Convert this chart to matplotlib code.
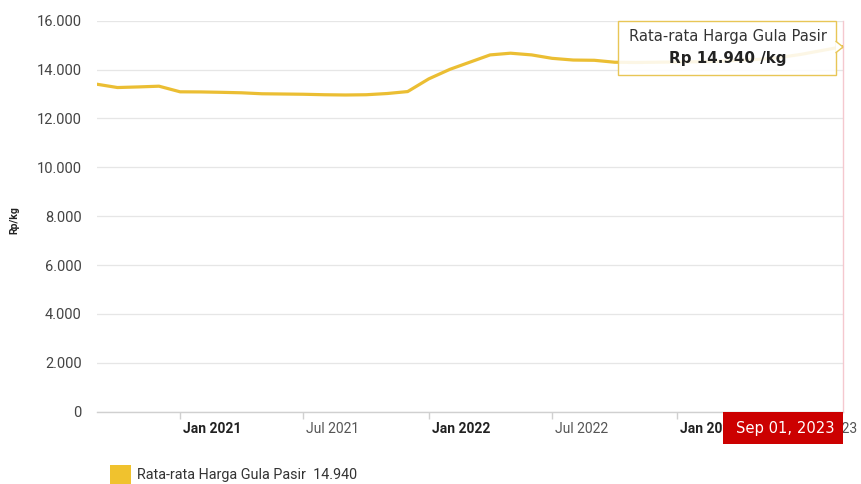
import matplotlib
matplotlib.use("Agg")
import matplotlib.pyplot as plt
import matplotlib.dates as mdates
from matplotlib.patches import Rectangle, Polygon
import datetime as dt

# ---- data ----
months = ["2020-09", "2020-10", "2020-11", "2020-12",
          "2021-01", "2021-02", "2021-03", "2021-04", "2021-05", "2021-06",
          "2021-07", "2021-08", "2021-09", "2021-10", "2021-11", "2021-12",
          "2022-01", "2022-02", "2022-03", "2022-04", "2022-05", "2022-06",
          "2022-07", "2022-08", "2022-09", "2022-10", "2022-11", "2022-12",
          "2023-01", "2023-02", "2023-03", "2023-04", "2023-05", "2023-06",
          "2023-07", "2023-08", "2023-09"]
prices = [13400, 13265, 13290, 13320,
          13090, 13085, 13070, 13050, 13010, 13000,
          12990, 12970, 12960, 12970, 13020, 13100,
          13620, 14010, 14290, 14600, 14670, 14600,
          14460, 14390, 14380, 14300, 14290, 14300,
          14310, 14320, 14340, 14380, 14420, 14500,
          14620, 14780, 14940]
series_name = "Rata-rata Harga Gula Pasir"
last_value_label = "14.940"
tooltip_value = "Rp 14.940 /kg"
crosshair_label = "Sep 01, 2023"
y_ticks = [0, 2000, 4000, 6000, 8000, 10000, 12000, 14000, 16000]
y_tick_labels = ["0", "2.000", "4.000", "6.000", "8.000", "10.000", "12.000", "14.000", "16.000"]
x_ticks = ["2021-01", "2021-07", "2022-01", "2022-07", "2023-01", "2023-07"]
x_tick_labels = ["Jan 2021", "Jul 2021", "Jan 2022", "Jul 2022", "Jan 2023", "Jul 2023"]
x_tick_bold = [True, False, True, False, True, False]

dates = [dt.datetime.strptime(m + "-01", "%Y-%m-%d") for m in months]
tick_dates = [dt.datetime.strptime(m + "-01", "%Y-%m-%d") for m in x_ticks]

W, H = 861, 484
fig = plt.figure(figsize=(W / 100, H / 100), dpi=100)
fig.patch.set_facecolor("white")

def fx(x):
    return x / W

def fy(y):
    return 1 - y / H

left, right, top, bottom = 97, 843, 20.7, 411.7
ax = fig.add_axes([fx(left), fy(bottom), (right - left) / W, (bottom - top) / H])
ax.set_facecolor("white")

line_color = "#EBBE33"
ax.plot(dates, prices, color=line_color, lw=2.3, solid_capstyle="round", zorder=3)

ax.set_xlim(dt.datetime(2020, 9, 1), dt.datetime(2023, 9, 1))
ax.set_ylim(0, 16000)

for s in ["top", "right", "left"]:
    ax.spines[s].set_visible(False)
ax.spines["bottom"].set_color("#d0d0d0")
ax.spines["bottom"].set_linewidth(1.0)

ax.set_yticks(y_ticks)
ax.set_yticklabels(y_tick_labels, fontfamily="Roboto", fontsize=10.5, color="#444444")
ax.tick_params(axis="y", length=0, pad=11)
ax.grid(axis="y", color="#e6e6e6", lw=0.9)
ax.set_axisbelow(True)

ax.set_xticks(tick_dates)
ax.set_xticklabels([])
ax.tick_params(axis="x", length=5, color="#d0d0d0", width=1)

trans = matplotlib.transforms.blended_transform_factory(ax.transData, ax.transAxes)
offset = matplotlib.transforms.ScaledTranslation(3 / 100, 0, fig.dpi_scale_trans)
for d, lab, b in zip(tick_dates, x_tick_labels, x_tick_bold):
    ax.text(d, -0.045, lab, transform=trans + offset, ha="left", va="center",
            fontfamily="Roboto", fontsize=10, fontweight="bold" if b else "normal",
            color="#222222" if b else "#555555", clip_on=False)

ax.set_ylabel("Rp/kg", fontfamily="Roboto", fontsize=7.5, fontweight="bold", color="#222222")
ax.yaxis.set_label_coords(-0.104, 0.49)

# crosshair
ax.axvline(dates[-1], color="#f5c8cf", lw=1.0, zorder=2, clip_on=False)

# crosshair label
fig.patches.append(Rectangle((fx(723), fy(444)), (843 - 723) / W, (444 - 411.5) / H,
                             transform=fig.transFigure, facecolor="#CC0000", edgecolor="none", zorder=5))
fig.text(fx(785), fy(428), crosshair_label, ha="center", va="center", color="white",
         fontfamily="DejaVu Sans", fontsize=10.6, zorder=6)

# tooltip
tip_l, tip_r, tip_t, tip_b = 618, 836, 21, 75
fig.patches.append(Rectangle((fx(tip_l), fy(tip_b)), (tip_r - tip_l) / W, (tip_b - tip_t) / H,
                             transform=fig.transFigure, facecolor="white", alpha=0.88,
                             edgecolor="none", zorder=7))
fig.patches.append(Rectangle((fx(tip_l), fy(tip_b)), (tip_r - tip_l) / W, (tip_b - tip_t) / H,
                             transform=fig.transFigure, facecolor="none",
                             edgecolor="#E8C656", lw=1.0, zorder=8))
fig.patches.append(Polygon([(fx(tip_r - 0.5), fy(41)), (fx(843), fy(47)), (fx(tip_r - 0.5), fy(53))],
                           closed=False, transform=fig.transFigure, facecolor="white",
                           edgecolor="#E8C656", lw=1.0, zorder=8))
fig.text(fx(728), fy(37), series_name, ha="center", va="center", color="#333333",
         fontfamily="DejaVu Sans", fontsize=10.6, zorder=9)
fig.text(fx(728), fy(59), tooltip_value, ha="center", va="center", color="#222222",
         fontfamily="DejaVu Sans", fontsize=10.9, fontweight="bold", zorder=9)

# legend
fig.patches.append(Rectangle((fx(110), fy(484)), 21 / W, 19 / H, transform=fig.transFigure,
                             facecolor="#F0C22E", edgecolor="none"))
fig.text(fx(137), fy(475), series_name + "  " + last_value_label, ha="left", va="center",
         color="#333333", fontfamily="Roboto", fontsize=10.4)

fig.savefig("out.png", dpi=100, facecolor="white")
